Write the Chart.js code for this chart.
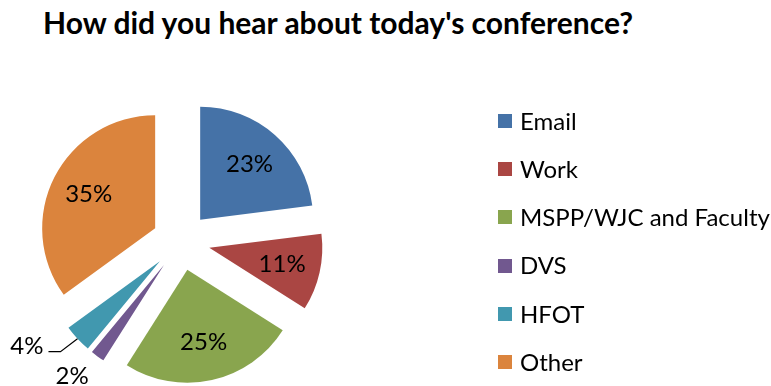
<!DOCTYPE html>
<html>
<head>
<meta charset="utf-8">
<title>How did you hear about today's conference?</title>
<script src="https://cdn.jsdelivr.net/npm/chart.js@4.4.1/dist/chart.umd.min.js"></script>
<style>
  html, body { margin: 0; padding: 0; background: #fff; }
  #wrap { position: relative; width: 771px; height: 386px; overflow: hidden; }
  #title {
    position: absolute; left: 43px; top: 7px;
    font: bold 30px Lato, "Open Sans", sans-serif; line-height: 1;
    color: #000; white-space: nowrap;
  }
  #myChart_hear { position: absolute; left: 0; top: 0; }
</style>
</head>
<body>
<div id="wrap">
  <div id="title">How did you hear about today's conference?</div>
  <canvas id="myChart_hear" width="771" height="386"></canvas>
</div>
<script>
  "use strict";

  const labels = ['Email', 'Work', 'MSPP/WJC and Faculty', 'DVS', 'HFOT', 'Other'];
  const percents = [23, 11, 25, 2, 4, 35];
  const colors = ['#4572A7', '#AA4643', '#89A54E', '#71588F', '#4198AF', '#DB843D'];

  const pieRadius = 113;
  const explodeBy = 29;
  const textFont = '24px Lato, "Open Sans", sans-serif';

  // small slices get their label outside the pie
  const outsideLabels = { DVS: 'plain', HFOT: 'leader' };

  // push every slice out along its bisector (Chart.js offset also grows small slices)
  const explodeSlices = {
    id: 'explodeSlices',
    beforeDatasetDraw(chart, args) {
      const ctx = chart.ctx;
      args.meta.data.forEach(arc => {
        const mid = (arc.startAngle + arc.endAngle) / 2;
        ctx.save();
        ctx.translate(Math.cos(mid) * explodeBy, Math.sin(mid) * explodeBy);
        arc.draw(ctx);
        ctx.restore();
      });
      return false;
    }
  };

  // percentage labels
  const sliceLabels = {
    id: 'sliceLabels',
    afterDatasetsDraw(chart) {
      const ctx = chart.ctx;
      const meta = chart.getDatasetMeta(0);
      ctx.save();
      ctx.font = textFont;
      ctx.fillStyle = '#000';
      ctx.strokeStyle = '#000';
      ctx.lineWidth = 1.2;
      meta.data.forEach((arc, i) => {
        const mid = (arc.startAngle + arc.endAngle) / 2;
        const cos = Math.cos(mid), sin = Math.sin(mid);
        const text = percents[i] + '%';
        const mode = outsideLabels[labels[i]];
        const edge = explodeBy + arc.outerRadius;

        if (!mode) {
          const d = explodeBy + arc.outerRadius * 0.66;
          ctx.textAlign = 'center';
          ctx.textBaseline = 'middle';
          ctx.fillText(text, arc.x + cos * d, arc.y + sin * d);
        } else if (mode === 'plain') {
          const d = edge + 15;
          ctx.textAlign = 'right';
          ctx.textBaseline = 'top';
          ctx.fillText(text, arc.x + cos * d, arc.y + sin * d - 4);
        } else {
          const ex = arc.x + cos * edge, ey = arc.y + sin * edge;
          ctx.beginPath();
          ctx.moveTo(ex, ey);
          ctx.lineTo(ex - 17, ey + 13);
          ctx.lineTo(ex - 29, ey + 13);
          ctx.stroke();
          ctx.textAlign = 'right';
          ctx.textBaseline = 'middle';
          ctx.fillText(text, ex - 34, ey + 8);
        }
      });
      ctx.restore();
    }
  };

  // legend column on the right
  const chartLegend = {
    id: 'chartLegend',
    afterDraw(chart) {
      const ctx = chart.ctx;
      const legendX = 498, legendTop = 121, legendStep = 48.2, box = 14;
      ctx.save();
      ctx.font = textFont;
      ctx.textAlign = 'left';
      ctx.textBaseline = 'middle';
      chart.data.labels.forEach((label, i) => {
        const y = legendTop + i * legendStep;
        ctx.fillStyle = colors[i];
        ctx.fillRect(legendX, Math.round(y - box / 2), box, box);
        ctx.fillStyle = '#000';
        ctx.fillText(label, legendX + 22, y + 1);
      });
      ctx.restore();
    }
  };

  const data_hear = {
    labels: labels,
    datasets: [
      {
        label: 'How did you hear',
        data: percents,
        backgroundColor: colors,
        borderWidth: 0,
        radius: pieRadius
      }
    ]
  };

  const config_hear = {
    type: 'pie',
    data: data_hear,
    options: {
      responsive: false,
      animation: false,
      devicePixelRatio: 1,
      layout: {
        padding: { left: 0, right: 409, top: 97, bottom: 0 }
      },
      plugins: {
        legend: { display: false },
        tooltip: { enabled: false }
      }
    },
    plugins: [explodeSlices, sliceLabels, chartLegend]
  };

  const ctx_hear = document.getElementById('myChart_hear');
  const myChart_hear = new Chart(ctx_hear, config_hear);
</script>
</body>
</html>
